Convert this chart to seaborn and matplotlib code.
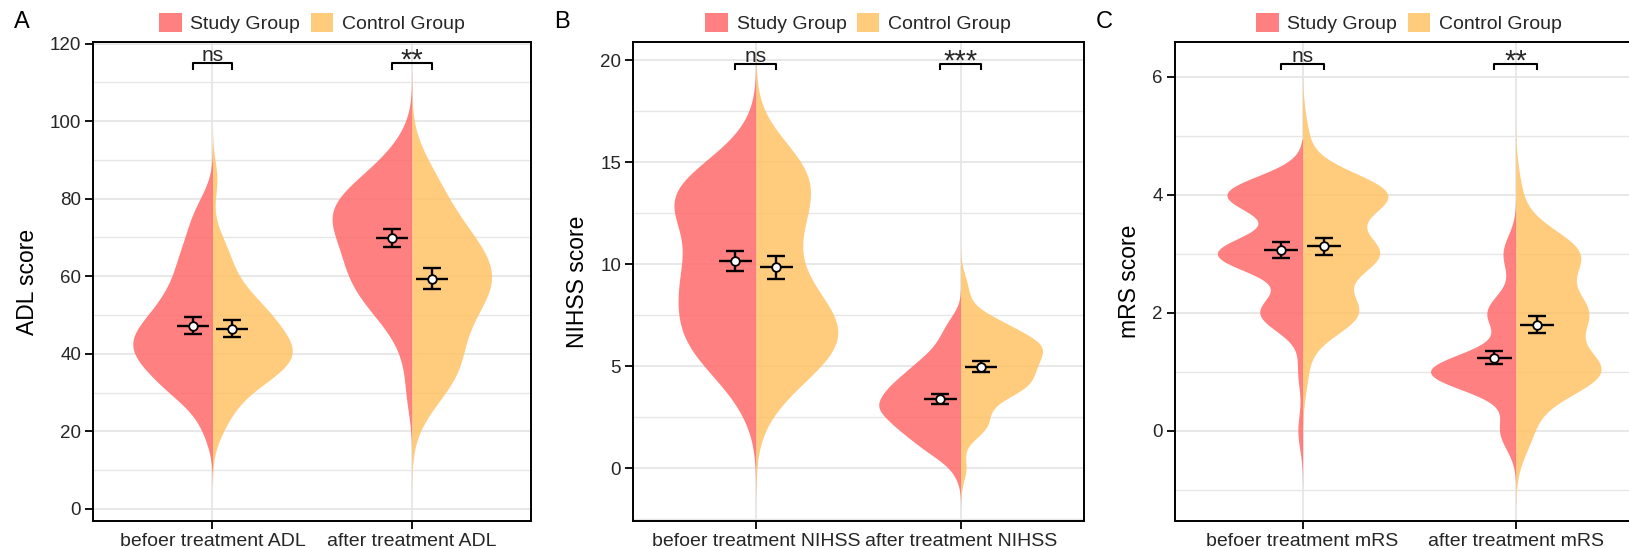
import numpy as np
import pandas as pd
import matplotlib
matplotlib.use("Agg")
import matplotlib.pyplot as plt
import matplotlib.patches as mpatches
from matplotlib.ticker import MultipleLocator
import seaborn as sns

plt.rcParams['font.family'] = ['Liberation Sans', 'DejaVu Sans']

# ---------------- data ----------------
GROUPS = ["Study Group", "Control Group"]

# ADL (scores in steps of 5) – counts per score value
ADL_CATS = ["befoer treatment ADL", "after treatment ADL"]
ADL_VALUES = [20, 25, 30, 35, 40, 45, 50, 55, 60, 65, 70, 75, 80, 85, 90, 95]
ADL_BEFORE_STUDY = [1, 1, 4, 5, 7, 7, 5, 4, 3, 3, 2, 2, 1, 0, 0, 0]
ADL_BEFORE_CONTROL = [1, 2, 3, 7, 9, 7, 6, 4, 2, 2, 1, 0, 0, 1, 0, 0]
ADL_AFTER_STUDY = [0, 0, 1, 0, 1, 1, 3, 4, 5, 5, 5, 7, 6, 4, 2, 1]
ADL_AFTER_CONTROL = [0, 1, 2, 4, 3, 3, 4, 5, 6, 5, 4, 3, 2, 2, 1, 0]
ADL_MEAN_STUDY = [47.3, 69.9]
ADL_SE_STUDY = [2.25, 2.25]
ADL_MEAN_CONTROL = [46.5, 59.4]
ADL_SE_CONTROL = [2.15, 2.65]
ADL_SIG = ["ns", "**"]

# NIHSS (integer scores)
NIHSS_CATS = ["befoer treatment NIHSS", "after treatment NIHSS"]
NIHSS_VALUES = list(range(0, 18))
NIHSS_BEFORE_STUDY = [0, 0, 0, 1, 1, 3, 4, 4, 4, 4, 4, 3, 3, 6, 5, 2, 1, 0]
NIHSS_BEFORE_CONTROL = [0, 0, 0, 1, 2, 4, 6, 6, 4, 3, 2, 2, 3, 3, 4, 4, 1, 0]
NIHSS_AFTER_STUDY = [1, 5, 8, 11, 9, 6, 3, 2, 0, 0, 0, 0, 0, 0, 0, 0, 0, 0]
NIHSS_AFTER_CONTROL = [1, 0, 4, 3, 9, 9, 11, 6, 1, 1, 0, 0, 0, 0, 0, 0, 0, 0]
NIHSS_MEAN_STUDY = [10.15, 3.37]
NIHSS_SE_STUDY = [0.50, 0.24]
NIHSS_MEAN_CONTROL = [9.85, 4.97]
NIHSS_SE_CONTROL = [0.57, 0.28]
NIHSS_SIG = ["ns", "***"]

# mRS (integer scores 0-6)
MRS_CATS = ["befoer treatment mRS", "after treatment mRS"]
MRS_VALUES = [0, 1, 2, 3, 4, 5, 6]
MRS_BEFORE_STUDY = [1, 1, 9, 18, 16, 0, 0]
MRS_BEFORE_CONTROL = [0, 1, 11, 15, 17, 1, 0]
MRS_AFTER_STUDY = [5, 27, 9, 4, 0, 0, 0]
MRS_AFTER_CONTROL = [3, 16, 13, 12, 1, 0, 0]
MRS_MEAN_STUDY = [3.07, 1.24]
MRS_SE_STUDY = [0.135, 0.105]
MRS_MEAN_CONTROL = [3.13, 1.80]
MRS_SE_CONTROL = [0.145, 0.145]
MRS_SIG = ["ns", "**"]

# ---------------- styling ----------------
COLORS = ["#FF6A6A", "#FFC266"]
ALPHA = 0.85
GRID = "#E6E6E6"
TXT = "#262626"
W, H = 1629, 548


def bw_nrd0(kde):
    """R's bw.nrd0 rule, returned as a scipy bandwidth factor."""
    x = np.asarray(kde.dataset).ravel()
    sd = np.std(x, ddof=1)
    q75, q25 = np.percentile(x, [75, 25])
    lo = min(sd, (q75 - q25) / 1.34)
    if lo <= 0:
        lo = sd
    return 0.9 * lo * len(x) ** -0.2 / sd


def build_df(cats, values, counts):
    rows = []
    for cat, pair in zip(cats, counts):
        for grp, cnt in zip(GROUPS, pair):
            for v in np.repeat(values, cnt):
                rows.append((cat, grp, float(v)))
    return pd.DataFrame(rows, columns=["stage", "group", "score"])


panels = [
    dict(letter="A", cats=ADL_CATS, values=ADL_VALUES,
         counts=[(ADL_BEFORE_STUDY, ADL_BEFORE_CONTROL), (ADL_AFTER_STUDY, ADL_AFTER_CONTROL)],
         ms=ADL_MEAN_STUDY, ss=ADL_SE_STUDY, mc=ADL_MEAN_CONTROL, sc=ADL_SE_CONTROL,
         sig=ADL_SIG, ylabel="ADL score", ylim=(-3.1, 120.4), major=20, minor=10,
         brk=(113.3, 114.9), rect=(92.9, 438.5)),
    dict(letter="B", cats=NIHSS_CATS, values=NIHSS_VALUES,
         counts=[(NIHSS_BEFORE_STUDY, NIHSS_BEFORE_CONTROL), (NIHSS_AFTER_STUDY, NIHSS_AFTER_CONTROL)],
         ms=NIHSS_MEAN_STUDY, ss=NIHSS_SE_STUDY, mc=NIHSS_MEAN_CONTROL, sc=NIHSS_SE_CONTROL,
         sig=NIHSS_SIG, ylabel="NIHSS score", ylim=(-2.6, 20.9), major=5, minor=2.5,
         brk=(19.52, 19.82), rect=(633.0, 450.5)),
    dict(letter="C", cats=MRS_CATS, values=MRS_VALUES,
         counts=[(MRS_BEFORE_STUDY, MRS_BEFORE_CONTROL), (MRS_AFTER_STUDY, MRS_AFTER_CONTROL)],
         ms=MRS_MEAN_STUDY, ss=MRS_SE_STUDY, mc=MRS_MEAN_CONTROL, sc=MRS_SE_CONTROL,
         sig=MRS_SIG, ylabel="mRS score", ylim=(-1.53, 6.59), major=2, minor=1,
         brk=(6.11, 6.21), rect=(1174.7, 469.0)),
]

fig = plt.figure(figsize=(W / 100, H / 100), dpi=100)
ax_top, ax_bot = 42, 521

for p in panels:
    left, width = p["rect"]
    ax = fig.add_axes([left / W, 1 - ax_bot / H, width / W, (ax_bot - ax_top) / H])
    df = build_df(p["cats"], p["values"], p["counts"])
    sns.violinplot(data=df, x="stage", y="score", hue="group", order=p["cats"],
                   hue_order=GROUPS, split=True, inner=None, cut=3, gridsize=300,
                   density_norm="width", width=0.8, bw_method=bw_nrd0,
                   palette=COLORS, saturation=1, linewidth=0, alpha=ALPHA,
                   legend=False, ax=ax)

    xs = np.arange(len(p["cats"]))
    for off, means, ses in ((-0.1, p["ms"], p["ss"]), (0.1, p["mc"], p["sc"])):
        ax.errorbar(xs + off, means, yerr=ses, fmt="none", ecolor="black",
                    elinewidth=1.7, capsize=6.8, capthick=1.7, zorder=5)
        ax.errorbar(xs + off, means, xerr=0.08, fmt="none", ecolor="black",
                    elinewidth=1.7, capsize=0, zorder=5)
        ax.plot(xs + off, means, "o", ms=6.2, mfc="white", mec="black", mew=1.3, zorder=6)

    lo, hi = p["brk"]
    for x, lab in zip(xs, p["sig"]):
        ax.plot([x - 0.1, x - 0.1, x + 0.1, x + 0.1], [lo, hi, hi, lo],
                color="black", lw=1.5, zorder=6, solid_capstyle="butt")
        if lab == "ns":
            ax.annotate(lab, xy=(x, hi), xytext=(0, 1.5), textcoords="offset points",
                        ha="center", va="baseline", fontsize=15, color=TXT)
        else:
            ax.annotate(lab, xy=(x, hi), xytext=(0, -4), textcoords="offset points",
                        ha="center", va="baseline", fontsize=21, color=TXT)

    ax.set_xlim(-0.6, 1.6)
    ax.set_ylim(*p["ylim"])
    ax.yaxis.set_major_locator(MultipleLocator(p["major"]))
    ax.yaxis.set_minor_locator(MultipleLocator(p["minor"]))
    ax.set_axisbelow(True)
    ax.grid(which="major", axis="both", color=GRID, lw=1.3)
    ax.grid(which="minor", axis="y", color=GRID, lw=1.0)
    ax.set_xlabel("")
    ax.set_ylabel(p["ylabel"], fontsize=16.5, color="black", labelpad=8)
    ax.tick_params(axis="both", which="major", length=5.5, width=1.3, color="black",
                   labelcolor=TXT, pad=3)
    ax.tick_params(axis="y", labelsize=13.5)
    ax.tick_params(axis="x", labelsize=14)
    ax.tick_params(which="minor", length=0)
    for s in ax.spines.values():
        s.set_linewidth(1.4)
        s.set_color("black")

    handles = [mpatches.Patch(facecolor=c, alpha=ALPHA, edgecolor="none") for c in COLORS]
    ax.legend(handles, GROUPS, loc="lower center", bbox_to_anchor=(0.5, 1.0), ncol=2,
              frameon=False, fontsize=14, handlelength=1.15, handleheight=1.15,
              handletextpad=0.45, columnspacing=0.55, borderaxespad=0.15, borderpad=0.3,
              labelcolor=TXT)

    fig.text((left - 79) / W, 1 - 11 / H, p["letter"], ha="left", va="top",
             fontsize=17, color="black")

fig.savefig("out.png", dpi=100)
